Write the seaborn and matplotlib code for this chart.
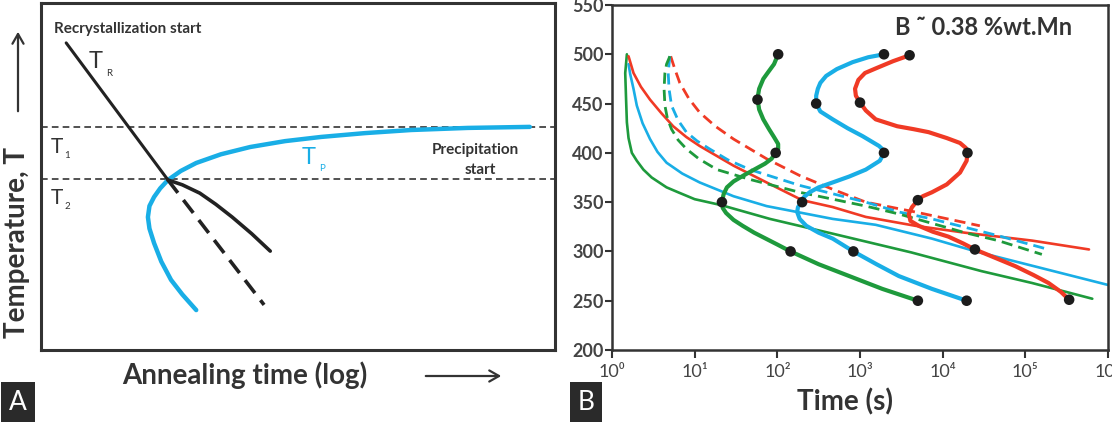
import numpy as np
import pandas as pd
import matplotlib
matplotlib.use("Agg")
import matplotlib.pyplot as plt
import seaborn as sns
from matplotlib.ticker import FixedLocator, FuncFormatter, LogLocator, NullFormatter

sns.set_theme(style="white")
plt.rcParams['font.family'] = ['Lato', 'DejaVu Sans']

# ---------------- Panel A (schematic, arbitrary units 0-100) ----------------
tr_solid_x = [4.9, 24.7]
tr_solid_y = [88.5, 49.0]
tr_dash_x = [24.7, 43.4]
tr_dash_y = [49.0, 13.0]
tr_branch_x = [24.7, 27.5, 30.9, 34.0, 37.2, 41.0, 44.6]
tr_branch_y = [49.0, 47.6, 45.2, 42.0, 38.3, 33.5, 28.5]
tp_x = [30.2, 27.5, 25.3, 23.4, 22.0, 21.1, 20.8, 21.1, 22.0, 23.2, 24.7, 27.2, 30.2, 35.0,
        40.7, 47.5, 54.5, 63.0, 72.0, 83.0, 95.1]
tp_y = [11.5, 16.0, 20.2, 25.5, 30.8, 35.0, 38.3, 41.5, 44.1, 46.6, 49.0, 51.6, 53.9, 56.4,
        58.5, 60.2, 61.4, 62.5, 63.4, 64.0, 64.3]
t1_level = 64.3
t2_level = 49.3

# ---------------- Panel B (log10 time [s], temperature [C]) ----------------
green_thick_logt = [2.01, 1.96, 1.89, 1.83, 1.78, 1.76, 1.78, 1.83, 1.90, 1.96, 2.01, 2.01, 1.98,
                    1.93, 1.85, 1.72, 1.59, 1.47, 1.39, 1.35, 1.33, 1.34, 1.38, 1.47, 1.58, 1.72,
                    1.86, 2.00, 2.16, 2.50, 2.87, 3.27, 3.70]
green_thick_T = [500, 490, 482, 475, 465, 455, 444, 434, 424, 416, 409, 404, 400,
                 394, 389, 383, 377, 371, 365, 358, 350, 344, 339, 332, 326, 319,
                 313, 307, 300, 287, 275, 262, 250]
green_dot_logt = [2.01, 1.76, 1.98, 1.33, 2.16, 3.70]
green_dot_T = [500, 454, 400, 350, 300, 250]

blue_thick_logt = [3.29, 3.10, 2.91, 2.72, 2.59, 2.52, 2.49, 2.47, 2.47, 2.52, 2.67, 2.85, 3.03,
                   3.15, 3.23, 3.28, 3.29, 3.24, 3.07, 2.87, 2.67, 2.50, 2.39, 2.32, 2.30, 2.25,
                   2.24, 2.27, 2.35, 2.50, 2.67, 2.92, 3.20, 3.47, 3.87, 4.29]
blue_thick_T = [500, 497, 492, 485, 478, 471, 465, 458, 450, 442, 434, 425, 417,
                411, 407, 403, 400, 392, 383, 376, 370, 365, 360, 355, 350, 345,
                340, 333, 326, 319, 313, 300, 287, 275, 262, 250]
blue_dot_logt = [3.29, 2.47, 3.29, 2.30, 2.92, 4.29]
blue_dot_T = [500, 450, 400, 350, 300, 250]

red_thick_logt = [3.60, 3.40, 3.20, 3.06, 2.98, 2.94, 2.95, 3.00, 3.07, 3.19, 3.45, 3.65, 3.83,
                  4.05, 4.21, 4.28, 4.30, 4.29, 4.21, 4.05, 3.87, 3.76, 3.70, 3.63, 3.59, 3.61,
                  3.71, 3.88, 4.07, 4.25, 4.39, 4.65, 4.88, 5.10, 5.28, 5.43, 5.53]
red_thick_T = [499, 493, 486, 481, 474, 465, 458, 451, 443, 434, 427, 424, 421,
               415, 410, 405, 400, 392, 380, 368, 360, 356, 352, 345, 338, 331,
               326, 320, 315, 308, 302, 293, 285, 276, 268, 259, 251]
red_dot_logt = [3.60, 3.00, 4.30, 3.70, 4.39, 5.53]
red_dot_T = [499, 451, 400, 352, 302, 251]

green_thin_logt = [0.18, 0.16, 0.17, 0.18, 0.20, 0.24, 0.30, 0.38, 0.48, 0.66, 0.80, 1.00, 1.32,
                   1.91, 2.67, 3.62, 4.47, 5.08, 5.81]
green_thin_T = [500, 481, 455, 431, 415, 400, 392, 383, 375, 365, 360, 353, 347,
                333, 318, 299, 280, 268, 252]

blue_thin_logt = [0.20, 0.22, 0.26, 0.30, 0.37, 0.46, 0.55, 0.66, 0.85, 1.06, 1.47, 1.87, 2.67,
                  3.19, 3.87, 4.40, 5.20, 6.00]
blue_thin_T = [490, 480, 465, 448, 430, 414, 401, 390, 379, 370, 356, 346, 333,
               327, 313, 300, 283, 266]

red_thin_logt = [0.20, 0.26, 0.35, 0.46, 0.60, 0.74, 0.90, 1.06, 1.47, 1.87, 2.30, 2.67, 3.07,
                 3.67, 4.27, 5.08, 5.77]
red_thin_T = [498, 481, 467, 454, 440, 427, 416, 407, 387, 370, 352, 345, 335,
              326, 319, 311, 302]

green_dash_logt = [0.70, 0.66, 0.64, 0.63, 0.64, 0.67, 0.72, 0.80, 0.90, 1.05, 1.27, 1.67, 2.27,
                   3.07, 3.47, 4.27, 4.67, 5.20]
green_dash_T = [498, 490, 481, 465, 448, 435, 424, 413, 404, 394, 383, 373, 360,
                346, 338, 319, 311, 297]

blue_dash_logt = [0.70, 0.69, 0.68, 0.69, 0.72, 0.80, 0.90, 1.03, 1.18, 1.40, 1.67, 2.27, 3.07,
                  3.47, 3.87, 4.67, 5.28]
blue_dash_T = [498, 490, 481, 465, 448, 433, 421, 412, 404, 393, 383, 367, 350,
               340, 333, 316, 302]

red_dash_logt = [0.71, 0.76, 0.82, 0.93, 1.06, 1.25, 1.47, 1.87, 2.27, 2.67, 3.07, 3.67, 4.45]
red_dash_T = [498, 485, 471, 455, 441, 427, 414, 394, 377, 363, 350, 340, 326]

x_tick_exponents = [0, 1, 2, 3, 4, 5, 6]
y_ticks = [200, 250, 300, 350, 400, 450, 500, 550]

GREEN = "#1e9a3c"
BLUE = "#19aee6"
RED = "#f03a25"
DARK = "#333333"
GRAY = "#444444"
SUP = str.maketrans("0123456789", "\u2070\u00b9\u00b2\u00b3\u2074\u2075\u2076\u2077\u2078\u2079")

W, H = 1112, 432
fig = plt.figure(figsize=(W / 100, H / 100), dpi=100)
fig.patch.set_facecolor("white")

def fx(px):
    return px / W

def fy(py):
    return 1 - py / H

# ---------------- Panel A ----------------
axA = fig.add_axes([fx(41), fy(350), 514 / W, 347 / H])
axA.set_xlim(0, 100)
axA.set_ylim(0, 100)
axA.set_xticks([])
axA.set_yticks([])
for s in axA.spines.values():
    s.set_visible(True)
    s.set_color(DARK)
    s.set_linewidth(2.2)

axA.axhline(t1_level, color=DARK, lw=1.2, ls=(0, (4, 2.5)), zorder=1)
axA.axhline(t2_level, color=DARK, lw=1.2, ls=(0, (4, 2.5)), zorder=1)
sns.lineplot(x=tp_x, y=tp_y, sort=False, estimator=None, ax=axA, color=BLUE, lw=3.2,
             zorder=2)
sns.lineplot(x=tr_solid_x, y=tr_solid_y, sort=False, estimator=None, ax=axA, color="#222222",
             lw=2.2, zorder=3)
sns.lineplot(x=tr_branch_x, y=tr_branch_y, sort=False, estimator=None, ax=axA, color="#222222",
             lw=2.6, zorder=3)
axA.plot(tr_dash_x, tr_dash_y, color="#222222", lw=2.6, ls=(0, (4.5, 2.5)), zorder=3)

axA.text(2.5, 92.5, "Recrystallization start", fontsize=11, fontweight="bold", color=DARK,
         ha="left", va="center")
axA.text(9.3, 83.0, "T", fontsize=17, color=DARK, ha="left", va="center")
axA.text(12.6, 79.6, "R", fontsize=7, color=DARK, ha="left", va="center")
axA.text(1.8, 58.5, "T", fontsize=15, color=DARK, ha="left", va="center")
axA.text(4.6, 56.0, "1", fontsize=7, color=DARK, ha="left", va="center")
axA.text(1.8, 43.8, "T", fontsize=15, color=DARK, ha="left", va="center")
axA.text(4.6, 41.3, "2", fontsize=7, color=DARK, ha="left", va="center")
axA.text(50.8, 55.5, "T", fontsize=17, color=BLUE, ha="left", va="center")
axA.text(54.2, 52.4, "P", fontsize=7, color=BLUE, ha="left", va="center")
axA.text(84.6, 57.6, "Precipitation", fontsize=11, fontweight="bold", color=DARK,
         ha="center", va="center")
axA.text(85.4, 51.9, "start", fontsize=11, fontweight="bold", color=DARK,
         ha="center", va="center")

fig.text(fx(17), fy(242), "Temperature, T", rotation=90, fontsize=20, fontweight="bold",
         color=DARK, ha="center", va="center")
fig.add_artist(matplotlib.patches.FancyArrowPatch((fx(18), fy(114)), (fx(18), fy(29)),
               transform=fig.transFigure, arrowstyle="->,head_length=7,head_width=4",
               lw=1.6, color=DARK))
fig.text(fx(245), fy(375), "Annealing time (log)", fontsize=20, fontweight="bold",
         color=DARK, ha="center", va="center")
fig.add_artist(matplotlib.patches.FancyArrowPatch((fx(423), fy(376)), (fx(504), fy(376)),
               transform=fig.transFigure, arrowstyle="->,head_length=7,head_width=4",
               lw=1.6, color=DARK))

# ---------------- Panel B ----------------
axB = fig.add_axes([fx(612), fy(350), 496 / W, 345 / H])
axB.set_xscale("log")

def tx(logt):
    return [10 ** v for v in logt]

thin = dict(sort=False, estimator=None, ax=axB, lw=1.9, zorder=2)
sns.lineplot(x=tx(green_thin_logt), y=green_thin_T, color=GREEN, **thin)
sns.lineplot(x=tx(blue_thin_logt), y=blue_thin_T, color=BLUE, **thin)
sns.lineplot(x=tx(red_thin_logt), y=red_thin_T, color=RED, **thin)

dash = dict(lw=2.0, ls=(0, (4, 2.2)), zorder=2)
axB.plot(tx(red_dash_logt), red_dash_T, color=RED, **dash)
axB.plot(tx(blue_dash_logt), blue_dash_T, color=BLUE, **dash)
axB.plot(tx(green_dash_logt), green_dash_T, color=GREEN, **dash)

thick = dict(sort=False, estimator=None, ax=axB, lw=3.0, zorder=3)
sns.lineplot(x=tx(green_thick_logt), y=green_thick_T, color=GREEN, **thick)
sns.lineplot(x=tx(blue_thick_logt), y=blue_thick_T, color=BLUE, **thick)
sns.lineplot(x=tx(red_thick_logt), y=red_thick_T, color=RED, **thick)

dots = pd.DataFrame({
    "t": tx(green_dot_logt) + tx(blue_dot_logt) + tx(red_dot_logt),
    "T": green_dot_T + blue_dot_T + red_dot_T,
})
sns.scatterplot(data=dots, x="t", y="T", ax=axB, color="#1c1c1c", s=58, edgecolor="none",
                zorder=4)

axB.set_xlim(1, 1e6)
axB.set_ylim(200, 550)
axB.yaxis.set_major_locator(FixedLocator(y_ticks))
axB.xaxis.set_major_locator(FixedLocator([10.0 ** e for e in x_tick_exponents]))
axB.xaxis.set_minor_locator(LogLocator(base=10, subs=np.arange(2, 10), numticks=20))
axB.xaxis.set_minor_formatter(NullFormatter())
axB.xaxis.set_major_formatter(
    FuncFormatter(lambda v, p: "10" + str(int(round(np.log10(v)))).translate(SUP)))
axB.set_xlabel("")
axB.set_ylabel("")
for s in axB.spines.values():
    s.set_visible(True)
    s.set_color(DARK)
    s.set_linewidth(1.8)
axB.tick_params(axis="both", which="both", direction="out", color=DARK, width=1.5)
axB.tick_params(axis="y", which="major", length=5, pad=1, labelsize=13, labelcolor=GRAY)
axB.tick_params(axis="x", which="major", length=6, pad=4, labelsize=13, labelcolor=GRAY)
axB.tick_params(axis="x", which="minor", length=5)
axB.tick_params(top=False, right=False, bottom=True, left=True)
for lab in axB.get_yticklabels():
    lab.set_fontweight("bold")

axB.text(0.57, 0.935, "B \u02dc 0.38 %wt.Mn", transform=axB.transAxes, fontsize=17,
         fontweight="bold", color=DARK, ha="left", va="center")
fig.text(fx(845), fy(402), "Time (s)", fontsize=20, fontweight="bold", color=DARK,
         ha="center", va="center")

# panel letters
for x0, letter in [(18, "A"), (586, "B")]:
    fig.text(fx(x0), fy(402), letter, fontsize=19, color="white", ha="center", va="center",
             bbox=dict(boxstyle="square,pad=0.3", fc="#2a2a2a", ec="none"))

fig.savefig("out.png", dpi=100, facecolor="white")
